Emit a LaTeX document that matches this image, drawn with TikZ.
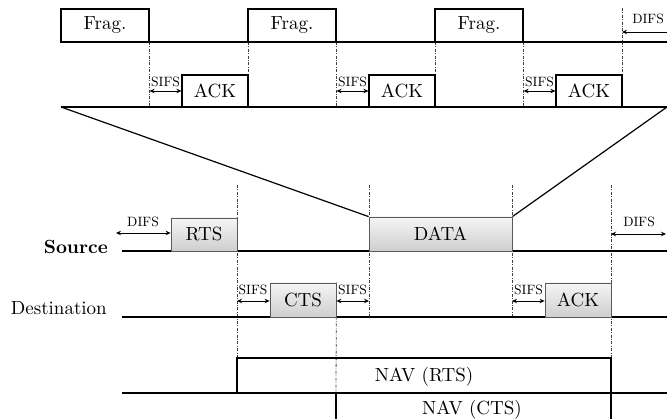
\documentclass[tikz,border=0pt]{standalone}
\usepackage{fontspec}
\setmainfont{lmroman10-regular.otf}[BoldFont=lmroman10-bold.otf]
\usetikzlibrary{arrows.meta}
\begin{document}
\begin{tikzpicture}[x=1pt,y=-1pt,
  lane/.style={line width=1.2pt},
  srclane/.style={line width=2.2pt},
  wbox/.style={draw, line width=1.2pt, fill=white, inner sep=0pt, font=\fontsize{19}{21}\selectfont},
  gbox/.style={draw=gray!70!black, line width=0.8pt, top color=gray!8, bottom color=gray!38, inner sep=0pt, font=\fontsize{19}{21}\selectfont},
  vd/.style={gray!50!black, line width=0.8pt, dash pattern=on 3pt off 1.5pt on 0.8pt off 1.5pt},
  span/.style={{Stealth[length=5pt,width=4.5pt]}-{Stealth[length=5pt,width=4.5pt]}, line width=0.9pt},
  lspan/.style={{Stealth[length=5pt,width=4.5pt]}-, line width=0.9pt},
  small/.style={font=\fontsize{13.5}{14}\selectfont, inner sep=0pt},
  big/.style={font=\fontsize{19}{21}\selectfont, inner sep=0pt}
]
\useasboundingbox (0,0) rectangle (667,419);

% ---------- upper (fragment) part ----------
\coordinate (tl) at (61,42);
\coordinate (tr) at (667,42);
\coordinate (al) at (61,107);
\coordinate (ar) at (667,107);

% dashed guides
\foreach \x in {149,248,336,435,523} \draw[vd] (\x,42) -- (\x,107);
\coordinate (dtop) at (622,8);
\draw[vd] (dtop) -- (622,107);

\draw[lane] (tl) -- (tr);
\draw[lane] (al) -- (ar);

\node[wbox, minimum width=88, minimum height=33] (f1) at (105,25.5) {Frag.};
\node[wbox, minimum width=88, minimum height=33] (f2) at (292,25.5) {Frag.};
\node[wbox, minimum width=88, minimum height=33] (f3) at (479,25.5) {Frag.};

\node[wbox, minimum width=66, minimum height=32] (a1) at (215,91) {ACK};
\node[wbox, minimum width=66, minimum height=32] (a2) at (402,91) {ACK};
\node[wbox, minimum width=66, minimum height=32] (a3) at (589,91) {ACK};

\draw[span] (f1.south east |- a1.west) -- (a1.west);
\draw[span] (f2.south east |- a2.west) -- (a2.west);
\draw[span] (f3.south east |- a3.west) -- (a3.west);
\node[small] (s1) at (165.5,82) {SIFS};
\node[small] (s2) at (352.5,82) {SIFS};
\node[small] (s3) at (539.5,82) {SIFS};

\coordinate (dr) at (667,32);
\draw[lspan] (dtop |- dr) -- (dr);
\node[small] (d0) at (648,19) {DIFS};

% ---------- lower (RTS/CTS) part ----------
\node[gbox, minimum width=66, minimum height=33] (rts) at (204,234.5) {RTS};
\node[gbox, minimum width=143, minimum height=34] (data) at (440.5,234) {DATA};
\node[gbox, minimum width=66, minimum height=34] (cts) at (303,300) {CTS};
\node[gbox, minimum width=66, minimum height=34] (ack) at (578,300) {ACK};

% diagonals (zoom lines)
\draw[lane] (al) -- (data.north west);
\draw[lane] (ar) -- (data.north east);

% dashed guides
\draw[vd] (237,185) -- (237,358);
\draw[vd] (cts.north east) -- (336,393);
\draw[vd] (369,185) -- (369,317);
\draw[vd] (512,185) -- (512,317);
\draw[vd] (611,185) -- (611,358);

% lanes
\draw[srclane] (122,251) -- (667,251);
\draw[lane] (122,317) -- (667,317);
\draw[lane] (122,393) -- (667,393);

% redraw boxes on top
\node[gbox, minimum width=66, minimum height=33] at (rts) {RTS};
\node[gbox, minimum width=143, minimum height=34] at (data) {DATA};
\node[gbox, minimum width=66, minimum height=34] at (cts) {CTS};
\node[gbox, minimum width=66, minimum height=34] at (ack) {ACK};

\node[big, font=\fontsize{19}{21}\selectfont\bfseries, anchor=base east] (src) at (108,254) {Source};
\node[big, anchor=base east] (dst) at (107,315) {Destination};

% DIFS / SIFS
\coordinate (dl) at (116,233);
\draw[span] (dl) -- (rts.west |- dl);
\node[small] (d1) at (143,222) {DIFS};
\coordinate (dr2) at (666,234);
\draw[span] (611,234) -- (dr2);
\node[small] (d2) at (639,222) {DIFS};

\draw[span] (237,301) -- (cts.west |- 0,301);
\draw[span] (cts.east |- 0,301) -- (369,301);
\draw[span] (512,301) -- (ack.west |- 0,301);
\node[small] (s4) at (253,290) {SIFS};
\node[small] (s5) at (352.5,290) {SIFS};
\node[small] (s6) at (528.5,290) {SIFS};

% NAV
\draw[lane] (237,393) -- (237,358) -- (611,358) -- (611,393);
\draw[lane] (336,393) -- (336,421);
\draw[lane] (611,393) -- (611,421);
\node[big] (navr) at (424,377) {NAV (RTS)};
\node[big] (navc) at (472,410) {NAV (CTS)};
\end{tikzpicture}
\end{document}
